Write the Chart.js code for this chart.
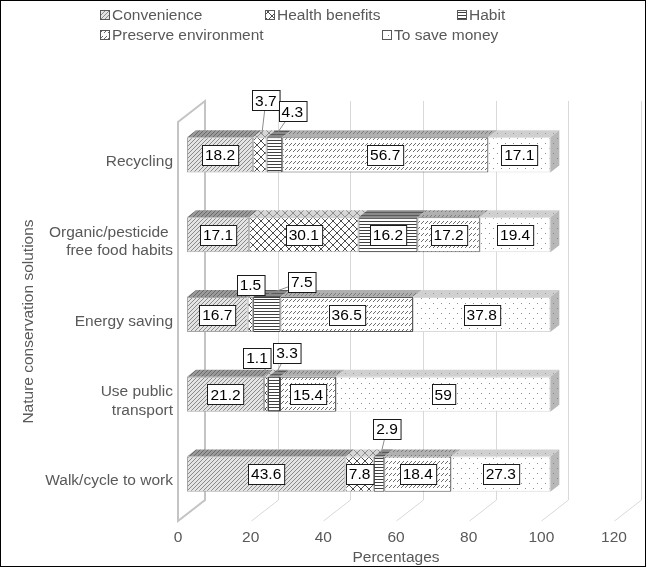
<!DOCTYPE html>
<html>
<head>
<meta charset="utf-8">
<script src="https://cdn.jsdelivr.net/npm/chart.js@4.4.0/dist/chart.umd.min.js"></script>
<style>
  html, body { margin: 0; padding: 0; background: #fff; }
  #wrap { width: 646px; height: 567px; }
</style>
</head>
<body>
<div id="wrap"><canvas id="chart" width="646" height="567"></canvas></div>
<script>
const categories = [
  'Recycling',
  ['Organic/pesticide ', 'free food habits'],
  'Energy saving',
  ['Use public', 'transport'],
  'Walk/cycle to work',
];
const convenience = [18.2, 17.1, 16.7, 21.2, 43.6];
const healthBenefits = [3.7, 30.1, 1.5, 1.1, 7.8];
const habit = [4.3, 16.2, 7.5, 3.3, 2.9];
const preserveEnvironment = [56.7, 17.2, 36.5, 15.4, 18.4];
const saveMoney = [17.1, 19.4, 37.8, 59, 27.3];
const seriesNames = ['Convenience', 'Health benefits', 'Habit', 'Preserve environment', 'To save money'];
const xTicks = [0, 20, 40, 60, 80, 100, 120];

const FONT = 'Liberation Sans, Arial, sans-serif';
const GREY_TEXT = '#595959';
const BAR_DX = 9, BAR_DY = -7;    // bars sit one third into the depth
const WALL_DX = 27, WALL_DY = -21; // full depth of the floor / back wall

const ctx = document.getElementById('chart').getContext('2d');

// small pixel tiles used as fill patterns
function tile(w, h, bg, fg, pixels) {
  const c = document.createElement('canvas');
  c.width = w; c.height = h;
  const g = c.getContext('2d');
  g.fillStyle = bg;
  g.fillRect(0, 0, w, h);
  g.fillStyle = fg;
  pixels.forEach(([px, py]) => g.fillRect(px, py, 1, 1));
  return ctx.createPattern(c, 'repeat');
}
const diag = [[0, 3], [1, 2], [2, 1], [3, 0]];
const cross = [];
for (let i = 0; i < 8; i++) { cross.push([i, i]); cross.push([i, 7 - i]); }
const hline = [[0, 0], [1, 0], [2, 0], [3, 0]];
const dash = [[0, 2], [1, 1], [2, 0]];
const dots = [[0, 0], [4, 5]];

const fronts = [
  tile(4, 4, '#e4e4e4', '#8a8a8a', diag),
  tile(8, 8, '#ffffff', '#4d4d4d', cross),
  tile(4, 3, '#ffffff', '#404040', hline),
  tile(4, 6, '#ffffff', '#6e6e6e', dash),
  tile(8, 10, '#ffffff', '#8c8c8c', dots),
];
const tops = [
  tile(4, 4, '#9a9a9a', '#6a6a6a', diag),
  tile(8, 8, '#d6d6d6', '#8c8c8c', cross),
  tile(4, 3, '#8a8a8a', '#5a5a5a', hline),
  tile(4, 6, '#b0b0b0', '#7a7a7a', dash),
  tile(8, 10, '#d0d0d0', '#9a9a9a', dots),
];
const sideFill = tile(8, 10, '#b8b8b8', '#8a8a8a', dots);
const edges = ['#a6a6a6', '#a6a6a6', '#404040', '#595959', '#d9d9d9'];

// labels that sit above the bar with a leader line: [dx from segment centre, dy from front top]
const callouts = {
  '1-0': [6, -37], '2-0': [18, -26],
  '1-2': [0, -12], '2-2': [35, -15],
  '1-3': [-9, -19], '2-3': [13, -24],
  '2-4': [8, -28],
};
const legendPos = [[100, 15], [265, 15], [457, 15], [100, 35], [382, 35]];

function labelBox(c, text, x, y) {
  c.font = '15.5px ' + FONT;
  const w = c.measureText(text).width + 6, h = 20;
  const bx = Math.round(x - w / 2) + 0.5, by = Math.round(y - h / 2) + 0.5;
  c.fillStyle = '#fff';
  c.fillRect(bx, by, w, h);
  c.strokeStyle = '#1a1a1a';
  c.lineWidth = 1;
  c.strokeRect(bx, by, w, h);
  c.fillStyle = '#000';
  c.textAlign = 'center';
  c.textBaseline = 'middle';
  c.fillText(text, x, y + 1);
  return {x: bx, y: by, w, h};
}

const threeD = {
  id: 'threeD',
  beforeDatasetsDraw(chart) {
    const {ctx: c, chartArea: a, scales: {x}} = chart;
    c.save();
    c.lineWidth = 1;
    c.strokeStyle = '#d9d9d9';
    x.ticks.forEach(t => {
      const px = Math.round(x.getPixelForValue(t.value)) + 0.5;
      c.beginPath();
      c.moveTo(px + WALL_DX, a.top + WALL_DY);
      c.lineTo(px + WALL_DX, a.bottom + WALL_DY);
      c.moveTo(px, a.bottom);
      c.lineTo(px + WALL_DX, a.bottom + WALL_DY);
      c.stroke();
    });
    const l = Math.round(x.getPixelForValue(0));
    c.strokeStyle = '#c4c4c4';
    c.lineWidth = 2;
    c.beginPath();
    c.moveTo(l, a.bottom);
    c.lineTo(l, a.top);
    c.lineTo(l + WALL_DX, a.top + WALL_DY);
    c.lineTo(l + WALL_DX, a.bottom + WALL_DY);
    c.closePath();
    c.stroke();
    c.restore();
    c.save();
    c.translate(BAR_DX, BAR_DY);
  },
  afterDatasetsDraw(chart) {
    const c = chart.ctx;
    const last = chart.data.datasets.length - 1;
    chart.data.datasets.forEach((ds, di) => {
      chart.getDatasetMeta(di).data.forEach(bar => {
        const x1 = Math.min(bar.base, bar.x), x2 = Math.max(bar.base, bar.x);
        const top = bar.y - bar.height / 2, bottom = bar.y + bar.height / 2;
        c.fillStyle = tops[di];
        c.beginPath();
        c.moveTo(x1, top);
        c.lineTo(x2, top);
        c.lineTo(x2 + BAR_DX, top + BAR_DY);
        c.lineTo(x1 + BAR_DX, top + BAR_DY);
        c.closePath();
        c.fill();
        if (di === last) {
          c.fillStyle = sideFill;
          c.beginPath();
          c.moveTo(x2, top);
          c.lineTo(x2 + BAR_DX, top + BAR_DY);
          c.lineTo(x2 + BAR_DX, bottom + BAR_DY);
          c.lineTo(x2, bottom);
          c.closePath();
          c.fill();
        }
      });
    });
    c.restore();
  },
  afterDraw(chart) {
    const c = chart.ctx;
    c.save();
    // data labels
    chart.data.datasets.forEach((ds, di) => {
      chart.getDatasetMeta(di).data.forEach((bar, i) => {
        const text = String(ds.data[i]);
        const cx = (bar.x + bar.base) / 2 + BAR_DX;
        const cy = bar.y + BAR_DY;
        const off = callouts[di + '-' + i];
        if (!off) { labelBox(c, text, cx, cy); return; }
        const frontTop = bar.y - bar.height / 2 + BAR_DY;
        const lx = cx + off[0], ly = frontTop + off[1];
        const tx = cx + 2, ty = frontTop - 3;
        // leader from box edge to the segment top
        const dx = tx - lx, dy = ty - ly;
        const s = Math.min(Math.abs(13 / (dx || 1e-6)), Math.abs(10 / (dy || 1e-6)));
        if (s < 1) {
          c.strokeStyle = '#8c8c8c';
          c.lineWidth = 1;
          c.beginPath();
          c.moveTo(lx + dx * s, ly + dy * s);
          c.lineTo(tx, ty);
          c.stroke();
        }
        labelBox(c, text, lx, ly);
      });
    });
    // legend
    c.font = '15.5px ' + FONT;
    c.textAlign = 'left';
    c.textBaseline = 'middle';
    chart.data.datasets.forEach((ds, di) => {
      const [x, y] = legendPos[di];
      c.fillStyle = fronts[di];
      c.fillRect(x, y - 5, 10, 10);
      c.strokeStyle = '#595959';
      c.lineWidth = 1;
      c.strokeRect(x + 0.5, y - 4.5, 9, 9);
      c.fillStyle = GREY_TEXT;
      c.fillText(ds.label, x + 12, y + 1);
    });
    // outer frame
    c.strokeStyle = '#000';
    c.strokeRect(0.5, 0.5, chart.width - 1, chart.height - 1);
    c.restore();
  },
};

const values = [convenience, healthBenefits, habit, preserveEnvironment, saveMoney];

new Chart(ctx, {
  type: 'bar',
  data: {
    labels: categories,
    datasets: seriesNames.map((name, i) => ({
      label: name,
      data: values[i],
      backgroundColor: fronts[i],
      borderColor: edges[i],
      borderWidth: 1,
      borderSkipped: false,
      barPercentage: 0.44,
      categoryPercentage: 1,
    })),
  },
  options: {
    indexAxis: 'y',
    responsive: false,
    animation: false,
    devicePixelRatio: 1,
    layout: { padding: { top: 122, right: 32, bottom: 0, left: 0 } },
    plugins: {
      legend: { display: false },
      tooltip: { enabled: false },
    },
    scales: {
      x: {
        stacked: true,
        min: xTicks[0],
        max: xTicks[xTicks.length - 1],
        ticks: { stepSize: xTicks[1] - xTicks[0], padding: 7, color: GREY_TEXT, font: { family: FONT, size: 15.5 } },
        grid: { display: false, drawTicks: false },
        border: { display: false },
        title: { display: true, text: 'Percentages', color: GREY_TEXT, font: { family: FONT, size: 15.5 }, padding: { top: 0, bottom: 0 } },
        afterFit(scale) { scale.height = 46; },
      },
      y: {
        stacked: true,
        ticks: { padding: 5, color: GREY_TEXT, font: { family: FONT, size: 15.5 } },
        grid: { display: false, drawTicks: false },
        border: { display: false },
        title: { display: true, text: 'Nature conservation solutions', color: GREY_TEXT, font: { family: FONT, size: 15.5 }, padding: { top: 19, bottom: 0 } },
        afterFit(scale) { scale.width = 178; },
      },
    },
  },
  plugins: [threeD],
});
</script>
</body>
</html>
